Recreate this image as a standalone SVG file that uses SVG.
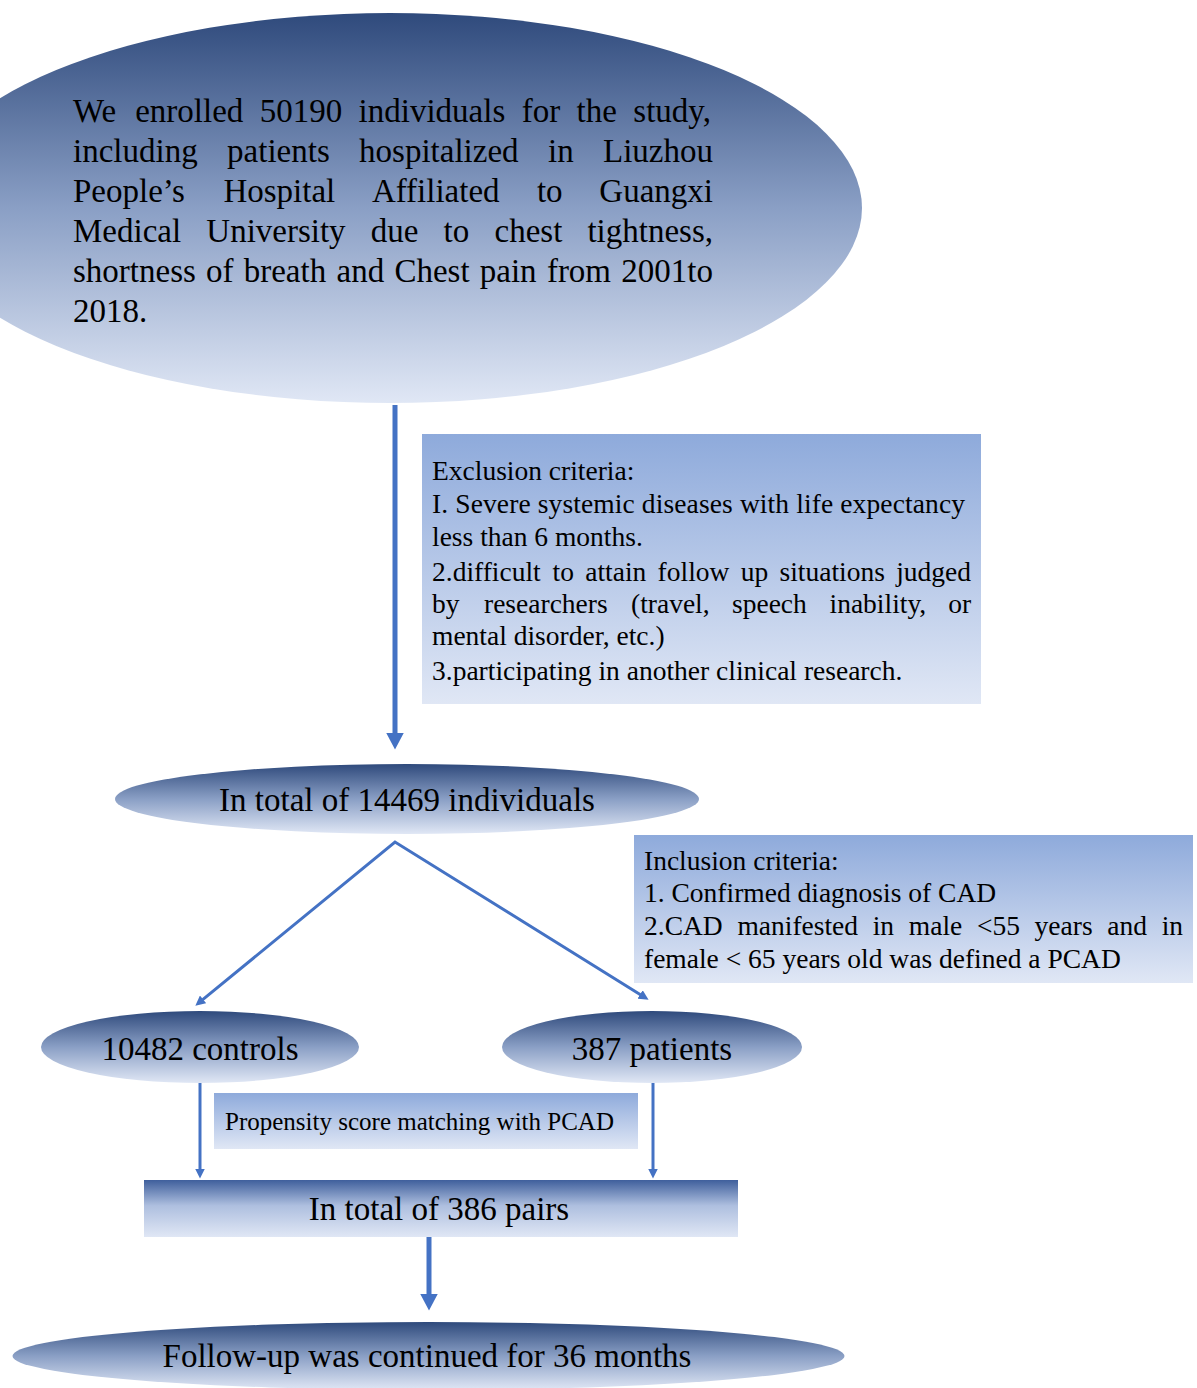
<svg xmlns="http://www.w3.org/2000/svg" width="1197" height="1388" viewBox="0 0 1197 1388">
  <defs>
    <linearGradient id="gEll" x1="0" y1="0" x2="0" y2="1">
      <stop offset="0" stop-color="#2f4a7c"/>
      <stop offset="0.5" stop-color="#8a9fc5"/>
      <stop offset="1" stop-color="#e0e7f5"/>
    </linearGradient>
    <linearGradient id="gBox" x1="0" y1="0" x2="0" y2="1">
      <stop offset="0" stop-color="#8eaadb"/>
      <stop offset="1" stop-color="#e0e7f5"/>
    </linearGradient>
    <linearGradient id="gDark" x1="0" y1="0" x2="0" y2="1">
      <stop offset="0" stop-color="#3f5f9c"/>
      <stop offset="0.45" stop-color="#aebfdf"/>
      <stop offset="1" stop-color="#e0e7f5"/>
    </linearGradient>
    <marker id="bigHead" viewBox="0 0 17 18" markerWidth="17" markerHeight="18" refX="0.5" refY="9" orient="auto" markerUnits="userSpaceOnUse">
      <path d="M0,0 L17,9 L0,18 z" fill="#4472c4"/>
    </marker>
    <marker id="smallHead" viewBox="0 0 10 10" markerWidth="10" markerHeight="10" refX="0.5" refY="5" orient="auto-start-reverse" markerUnits="userSpaceOnUse">
      <path d="M0,0 L10,5 L0,10 z" fill="#4472c4"/>
    </marker>
  </defs>
  <style>
    text { font-family: "Liberation Serif", "Times New Roman", serif; fill: #000; }
    .big { font-size: 33px; }
    .mid { font-size: 27.5px; }
    .sm { font-size: 25px; }
    .c { text-anchor: middle; }
    .conn { fill: none; stroke: #4472c4; }
    .thick { stroke-width: 5; }
    .thin { stroke-width: 3; }
  </style>
  <rect width="1197" height="1388" fill="#ffffff"/>

  <g id="connectors">
    <line class="conn thick" x1="395" y1="405" x2="395" y2="733" marker-end="url(#bigHead)"/>
    <path class="conn thin" d="M202.7,999.7 L395,842 L640.5,994.7" marker-start="url(#smallHead)" marker-end="url(#smallHead)"/>
    <line class="conn thin" x1="200" y1="1083" x2="200" y2="1169" marker-end="url(#smallHead)"/>
    <line class="conn thin" x1="653" y1="1083" x2="653" y2="1169" marker-end="url(#smallHead)"/>
    <line class="conn thick" x1="429" y1="1237" x2="429" y2="1294" marker-end="url(#bigHead)"/>
  </g>

  <g id="node-enrolled">
    <ellipse cx="390" cy="208" rx="472" ry="195" fill="url(#gEll)"/>
    <text class="big" y="122"><tspan x="73">We</tspan><tspan x="135.2">enrolled</tspan><tspan x="259.7">50190</tspan><tspan x="358.6">individuals</tspan><tspan x="521.7">for</tspan><tspan x="576.6">the</tspan><tspan x="633.3">study,</tspan></text>
    <text class="big" y="162"><tspan x="73">including</tspan><tspan x="227.1">patients</tspan><tspan x="359.1">hospitalized</tspan><tspan x="548">in</tspan><tspan x="603">Liuzhou</tspan></text>
    <text class="big" y="202"><tspan x="73">People’s</tspan><tspan x="223.4">Hospital</tspan><tspan x="371.9">Affiliated</tspan><tspan x="536.9">to</tspan><tspan x="599.3">Guangxi</tspan></text>
    <text class="big" y="242"><tspan x="73">Medical</tspan><tspan x="206.3">University</tspan><tspan x="370.8">due</tspan><tspan x="443.6">to</tspan><tspan x="494.5">chest</tspan><tspan x="587.4">tightness,</tspan></text>
    <text class="big" y="282"><tspan x="73">shortness</tspan><tspan x="206">of</tspan><tspan x="243.7">breath</tspan><tspan x="336.5">and</tspan><tspan x="394.4">Chest</tspan><tspan x="479.8">pain</tspan><tspan x="546.9">from</tspan><tspan x="621.3">2001to</tspan></text>
    <text class="big" x="73" y="322">2018.</text>
  </g>

  <g id="node-exclusion">
    <rect x="422" y="434" width="559" height="270" fill="url(#gBox)"/>
    <text class="mid" x="432" y="480">Exclusion criteria:</text>
    <text class="mid" x="432" y="513" textLength="533" lengthAdjust="spacing">I. Severe systemic diseases with life expectancy</text>
    <text class="mid" x="432" y="546">less than 6 months.</text>
    <text class="mid" y="581"><tspan x="432">2.difficult</tspan><tspan x="552.5">to</tspan><tspan x="585.2">attain</tspan><tspan x="657.6">follow</tspan><tspan x="740.7">up</tspan><tspan x="779.5">situations</tspan><tspan x="896.2">judged</tspan></text>
    <text class="mid" y="613"><tspan x="432">by</tspan><tspan x="484">researchers</tspan><tspan x="631">(travel,</tspan><tspan x="732">speech</tspan><tspan x="829.5">inability,</tspan><tspan x="948.2">or</tspan></text>
    <text class="mid" x="432" y="645">mental disorder, etc.)</text>
    <text class="mid" x="432" y="680">3.participating in another clinical research.</text>
  </g>

  <g id="node-total14469">
    <ellipse cx="407" cy="799" rx="292" ry="35" fill="url(#gEll)"/>
    <text class="big c" x="407" y="811">In total of 14469 individuals</text>
  </g>

  <g id="node-inclusion">
    <rect x="634" y="835" width="559" height="148" fill="url(#gBox)"/>
    <text class="mid" x="644" y="870">Inclusion criteria:</text>
    <text class="mid" x="644" y="902">1. Confirmed diagnosis of CAD</text>
    <text class="mid" y="935"><tspan x="644">2.CAD</tspan><tspan x="737.4">manifested</tspan><tspan x="872.7">in</tspan><tspan x="908.8">male</tspan><tspan x="977">&lt;55</tspan><tspan x="1034.6">years</tspan><tspan x="1107.3">and</tspan><tspan x="1161.7">in</tspan></text>
    <text class="mid" x="644" y="968">female &lt; 65 years old was defined a PCAD</text>
  </g>

  <g id="node-controls">
    <ellipse cx="200" cy="1047" rx="159" ry="36" fill="url(#gEll)"/>
    <text class="big c" x="200" y="1060">10482 controls</text>
  </g>

  <g id="node-patients">
    <ellipse cx="652" cy="1047" rx="150" ry="36" fill="url(#gEll)"/>
    <text class="big c" x="652" y="1060">387 patients</text>
  </g>

  <g id="node-psm">
    <rect x="214" y="1093" width="424" height="56" fill="url(#gBox)"/>
    <text class="sm" x="225" y="1130" textLength="389" lengthAdjust="spacingAndGlyphs">Propensity score matching with PCAD</text>
  </g>

  <g id="node-pairs">
    <rect x="144" y="1180" width="594" height="57" fill="url(#gDark)"/>
    <text class="big c" x="439" y="1220">In total of 386 pairs</text>
  </g>

  <g id="node-followup">
    <ellipse cx="428.5" cy="1356" rx="416" ry="34" fill="url(#gEll)"/>
    <text class="big c" x="427" y="1367">Follow-up was continued for 36 months</text>
  </g>
</svg>
